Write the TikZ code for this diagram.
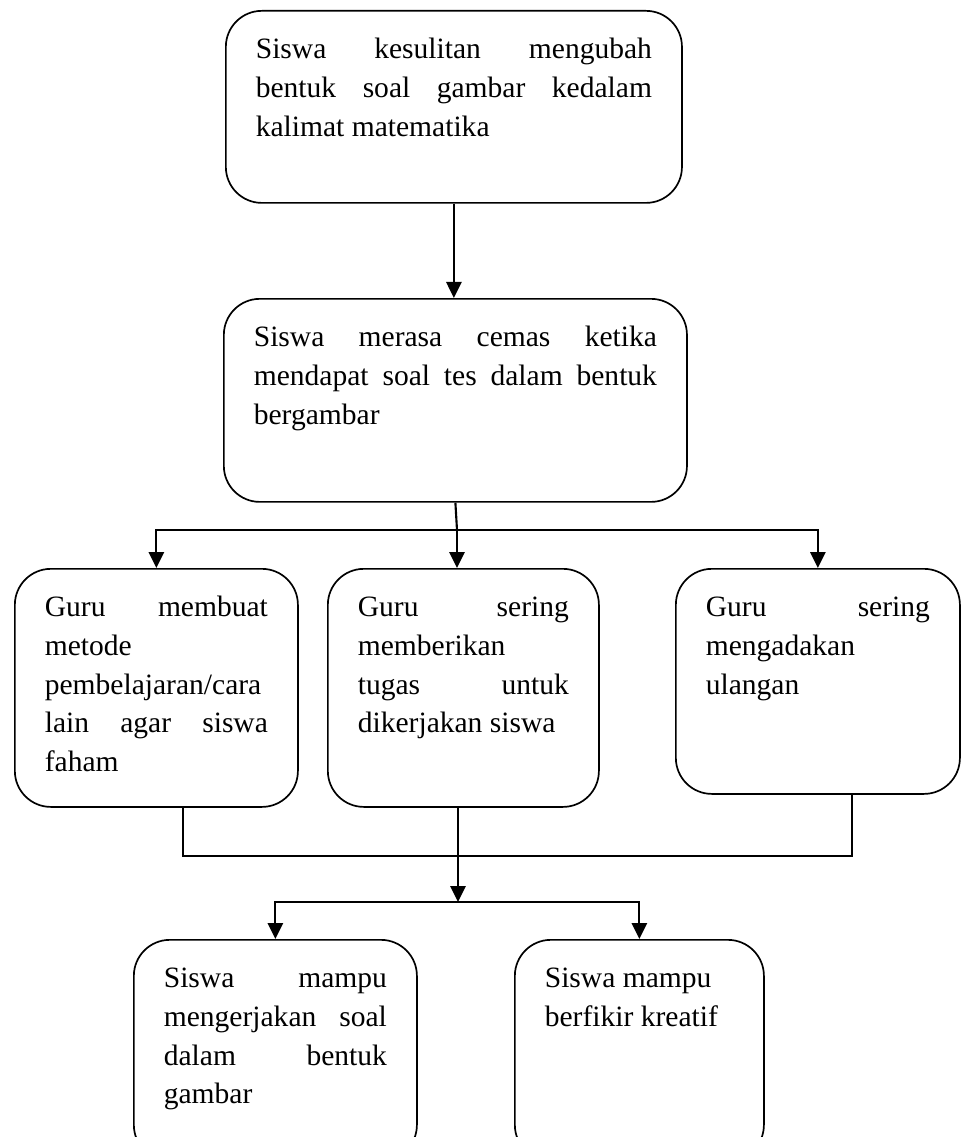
\documentclass[tikz,border=0pt]{standalone}
\usepackage{fontspec}
\setmainfont{Liberation Serif}
\usetikzlibrary{arrows.meta}

\newcommand{\boxtxt}[3]{\parbox[t][#2][t]{#1}{\strut #3}}

\tikzset{
  box/.style={draw, rounded corners=0.9cm, line width=1.2pt, anchor=north west,
    inner xsep=0.75cm, inner ysep=0.5cm, font=\fontsize{21}{27.7}\selectfont},
  arr/.style={-{Triangle[length=0.4cm,width=0.38cm]}, line width=1.5pt},
  wire/.style={line width=1.5pt}
}

\begin{document}
\begin{tikzpicture}[x=0.025cm, y=-0.025cm]
    \useasboundingbox (0,0) rectangle (961,1137);
    \clip (0,0) rectangle (961,1137);

    \node[box] (b1) at (225,10) {\boxtxt{9.9cm}{3.8cm}{Siswa \hfill kesulitan \hfill mengubah\\
      bentuk \hfill soal \hfill gambar \hfill kedalam\\
      kalimat matematika}};
    \node[box] (b2) at (223,298) {\boxtxt{10.075cm}{4.075cm}{Siswa \hfill merasa \hfill cemas \hfill ketika\\
      mendapat \hfill soal \hfill tes \hfill dalam \hfill bentuk\\
      bergambar}};

    % baris ketiga
    \node[box] (b3a) at (14,568) {\boxtxt{5.575cm}{4.95cm}{Guru \hfill membuat\\
      metode\\
      pembelajaran/cara\\
      lain \hfill agar \hfill siswa\\
      faham}};
    \node[box] (b3b) at (327,568) {\boxtxt{5.275cm}{4.95cm}{Guru \hfill sering\\
      memberikan\\
      tugas \hfill untuk\\
      dikerjakan siswa}};
    \node[box] (b3c) at (675,568) {\boxtxt{5.6cm}{4.625cm}{Guru \hfill sering\\
      mengadakan\\
      ulangan}};

    % baris bawah
    \node[box] (b4a) at (133,939) {\boxtxt{5.575cm}{4.525cm}{Siswa \hfill mampu\\
      mengerjakan \hfill soal\\
      dalam \hfill bentuk\\
      gambar}};
    \node[box] (b4b) at (514,939) {\boxtxt{4.725cm}{4.525cm}{Siswa mampu\\
      berfikir kreatif}};

    \coordinate (bus1) at (457,530);
    \coordinate (bus2) at (458,856);
    \coordinate (bus3) at (458,902);

    \draw[arr] (b1.south) -- (b1.south |- b2.north);

    \draw[wire] (b2.south) -- (bus1);
    \draw[arr] (bus1) -| (b3a.north);
    \draw[arr] (bus1) -- (bus1 |- b3b.north);
    \draw[arr] (bus1) -| (b3c.north);

    \draw[wire] ([xshift=0.66cm]b3a.south) |- (bus2) -| ([xshift=0.85cm]b3c.south);
    \draw[arr] (b3b.south -| bus2) -- (bus3);
    \draw[arr] (bus3) -| (b4a.north);
    \draw[arr] (bus3) -| (b4b.north);
\end{tikzpicture}
\end{document}
